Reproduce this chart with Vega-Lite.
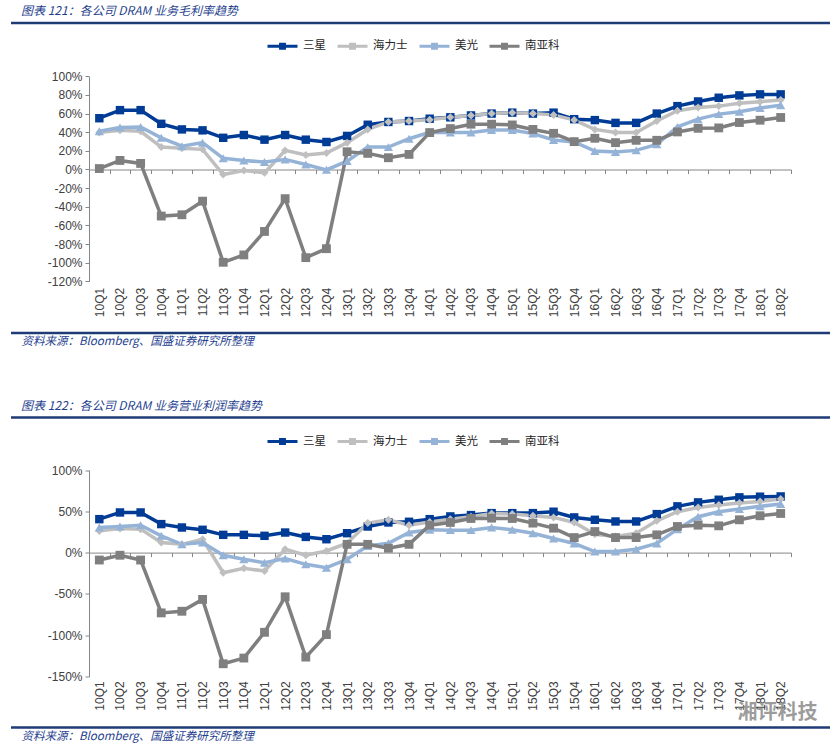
{
  "$schema": "https://vega.github.io/schema/vega-lite/v6.json",
  "background": "white",
  "padding": {"left": 3, "top": 3, "right": 5, "bottom": 0},
  "spacing": 48.5,
  "config": {"view": {"stroke": "#1F3B76", "strokeWidth": 2.5, "strokeDash": [819, 310]}, "font": "Liberation Sans"},
  "resolve": {"scale": {"color": "independent", "shape": "independent", "size": "independent"}},
  "data": {"values": [
    {"q":"10Q1","c":"三星","gm":55,"om":40.5},{"q":"10Q2","c":"三星","gm":63.7,"om":48.6},{"q":"10Q3","c":"三星","gm":63.7,"om":48.6},{"q":"10Q4","c":"三星","gm":49,"om":34.5},
    {"q":"11Q1","c":"三星","gm":43,"om":30.4},{"q":"11Q2","c":"三星","gm":42,"om":27.6},{"q":"11Q3","c":"三星","gm":34,"om":21.5},{"q":"11Q4","c":"三星","gm":37,"om":21.5},
    {"q":"12Q1","c":"三星","gm":32,"om":20.3},{"q":"12Q2","c":"三星","gm":37,"om":24.3},{"q":"12Q3","c":"三星","gm":32,"om":19},{"q":"12Q4","c":"三星","gm":29.5,"om":16.2},
    {"q":"13Q1","c":"三星","gm":36,"om":23.5},{"q":"13Q2","c":"三星","gm":48,"om":31.6},{"q":"13Q3","c":"三星","gm":51,"om":36.5},{"q":"13Q4","c":"三星","gm":52,"om":37.3},
    {"q":"14Q1","c":"三星","gm":54.5,"om":40.5},{"q":"14Q2","c":"三星","gm":56,"om":43.8},{"q":"14Q3","c":"三星","gm":58,"om":45.4},{"q":"14Q4","c":"三星","gm":60,"om":47.8},
    {"q":"15Q1","c":"三星","gm":61,"om":47.8},{"q":"15Q2","c":"三星","gm":60,"om":47.8},{"q":"15Q3","c":"三星","gm":61,"om":49.5},{"q":"15Q4","c":"三星","gm":54,"om":42.6},
    {"q":"16Q1","c":"三星","gm":53,"om":39.7},{"q":"16Q2","c":"三星","gm":50,"om":37.7},{"q":"16Q3","c":"三星","gm":50,"om":37.7},{"q":"16Q4","c":"三星","gm":60,"om":46.6},
    {"q":"17Q1","c":"三星","gm":68,"om":56},{"q":"17Q2","c":"三星","gm":73,"om":60.8},{"q":"17Q3","c":"三星","gm":77,"om":64},{"q":"17Q4","c":"三星","gm":79.5,"om":66.9},
    {"q":"18Q1","c":"三星","gm":80.6,"om":67.7},{"q":"18Q2","c":"三星","gm":80.6,"om":68},

    {"q":"10Q1","c":"海力士","gm":39.6,"om":26.3},{"q":"10Q2","c":"海力士","gm":42,"om":29.2},{"q":"10Q3","c":"海力士","gm":41,"om":28.4},{"q":"10Q4","c":"海力士","gm":24,"om":12.2},
    {"q":"11Q1","c":"海力士","gm":22.7,"om":10},{"q":"11Q2","c":"海力士","gm":21.6,"om":16.2},{"q":"11Q3","c":"海力士","gm":-5.4,"om":-24.3},{"q":"11Q4","c":"海力士","gm":-1,"om":-19},
    {"q":"12Q1","c":"海力士","gm":-3.6,"om":-22.3},{"q":"12Q2","c":"海力士","gm":20.5,"om":4},{"q":"12Q3","c":"海力士","gm":15.5,"om":-3.2},{"q":"12Q4","c":"海力士","gm":17.6,"om":2},
    {"q":"13Q1","c":"海力士","gm":28.8,"om":11.4},{"q":"13Q2","c":"海力士","gm":43,"om":35.7},{"q":"13Q3","c":"海力士","gm":51,"om":39.7},{"q":"13Q4","c":"海力士","gm":52,"om":33.2},
    {"q":"14Q1","c":"海力士","gm":53.3,"om":37},{"q":"14Q2","c":"海力士","gm":56,"om":40.5},{"q":"14Q3","c":"海力士","gm":58,"om":43.4},{"q":"14Q4","c":"海力士","gm":60,"om":47.4},
    {"q":"15Q1","c":"海力士","gm":61,"om":46.6},{"q":"15Q2","c":"海力士","gm":60,"om":44.6},{"q":"15Q3","c":"海力士","gm":58.6,"om":42.6},{"q":"15Q4","c":"海力士","gm":53,"om":36.5},
    {"q":"16Q1","c":"海力士","gm":43,"om":22.3},{"q":"16Q2","c":"海力士","gm":39.6,"om":19.5},{"q":"16Q3","c":"海力士","gm":39.6,"om":23.5},{"q":"16Q4","c":"海力士","gm":52,"om":38.5},
    {"q":"17Q1","c":"海力士","gm":63,"om":49.5},{"q":"17Q2","c":"海力士","gm":66.5,"om":54.7},{"q":"17Q3","c":"海力士","gm":68,"om":57.6},{"q":"17Q4","c":"海力士","gm":71,"om":60},
    {"q":"18Q1","c":"海力士","gm":72.7,"om":62},{"q":"18Q2","c":"海力士","gm":74.5,"om":64.9},

    {"q":"10Q1","c":"美光","gm":41,"om":30.4},{"q":"10Q2","c":"美光","gm":45,"om":31.6},{"q":"10Q3","c":"美光","gm":45.7,"om":33.2},{"q":"10Q4","c":"美光","gm":34,"om":20.3},
    {"q":"11Q1","c":"美光","gm":25,"om":10},{"q":"11Q2","c":"美光","gm":28.8,"om":12.2},{"q":"11Q3","c":"美光","gm":12,"om":-3.2},{"q":"11Q4","c":"美光","gm":9.7,"om":-8.1},
    {"q":"12Q1","c":"美光","gm":8,"om":-12.2},{"q":"12Q2","c":"美光","gm":10.8,"om":-7.3},{"q":"12Q3","c":"美光","gm":5.4,"om":-14.2},{"q":"12Q4","c":"美光","gm":-0.4,"om":-18.2},
    {"q":"13Q1","c":"美光","gm":9,"om":-8.1},{"q":"13Q2","c":"美光","gm":24,"om":8.1},{"q":"13Q3","c":"美光","gm":24,"om":11.4},{"q":"13Q4","c":"美光","gm":33,"om":24.3},
    {"q":"14Q1","c":"美光","gm":40,"om":27.6},{"q":"14Q2","c":"美光","gm":39.6,"om":27.2},{"q":"14Q3","c":"美光","gm":39.6,"om":27.2},{"q":"14Q4","c":"美光","gm":42.4,"om":30.4},
    {"q":"15Q1","c":"美光","gm":42.4,"om":27.6},{"q":"15Q2","c":"美光","gm":38.5,"om":23.5},{"q":"15Q3","c":"美光","gm":31.7,"om":17},{"q":"15Q4","c":"美光","gm":29.5,"om":11},
    {"q":"16Q1","c":"美光","gm":19.8,"om":1.2},{"q":"16Q2","c":"美光","gm":18.7,"om":1.2},{"q":"16Q3","c":"美光","gm":20.5,"om":4},{"q":"16Q4","c":"美光","gm":27,"om":11},
    {"q":"17Q1","c":"美光","gm":45.7,"om":28.4},{"q":"17Q2","c":"美光","gm":54,"om":43.4},{"q":"17Q3","c":"美光","gm":59.4,"om":49.5},{"q":"17Q4","c":"美光","gm":62,"om":52.7},
    {"q":"18Q1","c":"美光","gm":66,"om":56},{"q":"18Q2","c":"美光","gm":69,"om":58.8},

    {"q":"10Q1","c":"南亚科","gm":1,"om":-9},{"q":"10Q2","c":"南亚科","gm":9.7,"om":-3.2},{"q":"10Q3","c":"南亚科","gm":6.5,"om":-9},{"q":"10Q4","c":"南亚科","gm":-50,"om":-73},
    {"q":"11Q1","c":"南亚科","gm":-48.6,"om":-71},{"q":"11Q2","c":"南亚科","gm":-34,"om":-56.7},{"q":"11Q3","c":"南亚科","gm":-99.6,"om":-134.6},{"q":"11Q4","c":"南亚科","gm":-91.7,"om":-127.7},
    {"q":"12Q1","c":"南亚科","gm":-66.5,"om":-96.5},{"q":"12Q2","c":"南亚科","gm":-31.3,"om":-53.5},{"q":"12Q3","c":"南亚科","gm":-94.6,"om":-126.5},{"q":"12Q4","c":"南亚科","gm":-85,"om":-99.3},
    {"q":"13Q1","c":"南亚科","gm":19,"om":10},{"q":"13Q2","c":"南亚科","gm":17.3,"om":10},{"q":"13Q3","c":"南亚科","gm":12.6,"om":5.3},{"q":"13Q4","c":"南亚科","gm":16.2,"om":10},
    {"q":"14Q1","c":"南亚科","gm":39.6,"om":33.2},{"q":"14Q2","c":"南亚科","gm":43.9,"om":36.5},{"q":"14Q3","c":"南亚科","gm":48.6,"om":41.3},{"q":"14Q4","c":"南亚科","gm":48.6,"om":41.7},
    {"q":"15Q1","c":"南亚科","gm":47.8,"om":41.3},{"q":"15Q2","c":"南亚科","gm":43,"om":35.7},{"q":"15Q3","c":"南亚科","gm":38.8,"om":29.6},{"q":"15Q4","c":"南亚科","gm":29.9,"om":18.2},
    {"q":"16Q1","c":"南亚科","gm":33.5,"om":25.5},{"q":"16Q2","c":"南亚科","gm":28.8,"om":18.2},{"q":"16Q3","c":"南亚科","gm":31.3,"om":18.2},{"q":"16Q4","c":"南亚科","gm":31.3,"om":21.5},
    {"q":"17Q1","c":"南亚科","gm":40.3,"om":31.6},{"q":"17Q2","c":"南亚科","gm":44.2,"om":33.2},{"q":"17Q3","c":"南亚科","gm":44.6,"om":32.4},{"q":"17Q4","c":"南亚科","gm":50.4,"om":39.7},
    {"q":"18Q1","c":"南亚科","gm":52.9,"om":44.6},{"q":"18Q2","c":"南亚科","gm":55.8,"om":47.4}
  ]},
  "vconcat": [
    {
      "width": 819,
      "height": 310,
      "title": {"text": "图表 121：各公司 DRAM 业务毛利率趋势", "anchor": "start", "frame": "group", "dx": 10, "offset": 5, "font": "Noto Sans CJK SC", "fontSize": 12, "fontStyle": "italic", "fontWeight": "normal", "color": "#1F3F8F"},
      "encoding": {
        "x": {"field": "q", "type": "ordinal", "sort": null,
          "scale": {"type": "band", "range": [78, 780], "paddingInner": 0, "paddingOuter": 0},
          "axis": {"orient": "bottom", "offset": -163.5, "tickBand": "extent", "tickSize": 4, "labelAngle": -90, "labelPadding": 113.8, "domainColor": "#868686", "tickColor": "#868686", "labelColor": "#404040", "labelFont": "Liberation Sans", "labelFontSize": 12, "grid": false, "labelOverlap": false,
            "title": "资料来源：Bloomberg、国盛证券研究所整理", "titleX": 10, "titleY": 172.3, "titleAlign": "left", "titleBaseline": "middle", "titleAngle": 0, "titleFont": "Noto Sans CJK SC", "titleFontSize": 11.5, "titleFontStyle": "italic", "titleFontWeight": "normal", "titleColor": "#1F3F8F"}},
        "y": {"field": "gm", "type": "quantitative",
          "scale": {"domain": [-120, 100], "range": [258.3, 53.3], "nice": false, "zero": false},
          "axis": {"title": null, "offset": -78, "values": [-120, -100, -80, -60, -40, -20, 0, 20, 40, 60, 80, 100], "labelExpr": "datum.value + '%'", "tickSize": 4, "labelPadding": 3, "domainColor": "#868686", "tickColor": "#868686", "labelColor": "#404040", "labelFont": "Liberation Sans", "labelFontSize": 12, "grid": false}}
      },
      "layer": [
        {"mark": {"type": "line", "strokeWidth": 3.5},
          "encoding": {
            "color": {"field": "c", "type": "nominal", "sort": null,
              "scale": {"domain": ["三星", "海力士", "美光", "南亚科"], "range": ["#003B95", "#BFBFBF", "#95B3D7", "#7F7F7F"]},
              "legend": {"orient": "none", "legendX": 255, "legendY": 6.8, "direction": "horizontal", "gridAlign": "none", "title": null, "padding": 0, "symbolType": "M-1,0H1M-0.13,-0.13H0.13V0.13H-0.13Z", "symbolSize": 900, "symbolStrokeWidth": 3, "symbolOpacity": 1, "labelFont": "Noto Sans CJK SC", "labelFontSize": 11.5, "labelColor": "#262626", "labelOffset": 4, "columnPadding": 5}}
          }},
        {"mark": {"type": "point", "filled": true, "opacity": 1},
          "encoding": {
            "color": {"field": "c", "type": "nominal", "sort": null, "scale": {"domain": ["三星", "海力士", "美光", "南亚科"], "range": ["#003B95", "#BFBFBF", "#95B3D7", "#7F7F7F"]}, "legend": null},
            "shape": {"field": "c", "type": "nominal", "sort": null, "scale": {"domain": ["南亚科", "美光", "海力士", "三星"], "range": ["square", "triangle-up", "diamond", "square"]}, "legend": null},
            "size": {"field": "c", "type": "nominal", "sort": null, "scale": {"domain": ["美光", "南亚科", "三星", "海力士"], "range": [85, 64, 81, 70]}, "legend": null}
          }}
      ]
    },
    {
      "width": 819,
      "height": 310,
      "title": {"text": "图表 122：各公司 DRAM 业务营业利润率趋势", "anchor": "start", "frame": "group", "dx": 10, "offset": 5, "font": "Noto Sans CJK SC", "fontSize": 12, "fontStyle": "italic", "fontWeight": "normal", "color": "#1F3F8F"},
      "encoding": {
        "x": {"field": "q", "type": "ordinal", "sort": null,
          "scale": {"type": "band", "range": [78, 780], "paddingInner": 0, "paddingOuter": 0},
          "axis": {"orient": "bottom", "offset": -174.9, "tickBand": "extent", "tickSize": 4, "labelAngle": -90, "labelPadding": 124.2, "domainColor": "#868686", "tickColor": "#868686", "labelColor": "#404040", "labelFont": "Liberation Sans", "labelFontSize": 12, "grid": false, "labelOverlap": false,
            "title": "资料来源：Bloomberg、国盛证券研究所整理", "titleX": 10, "titleY": 184.2, "titleAlign": "left", "titleBaseline": "middle", "titleAngle": 0, "titleFont": "Noto Sans CJK SC", "titleFontSize": 11.5, "titleFontStyle": "italic", "titleFontWeight": "normal", "titleColor": "#1F3F8F"}},
        "y": {"field": "om", "type": "quantitative",
          "scale": {"domain": [-150, 100], "range": [259, 52.5], "nice": false, "zero": false},
          "axis": {"offset": -78, "values": [-150, -100, -50, 0, 50, 100], "labelExpr": "datum.value + '%'", "tickSize": 4, "labelPadding": 3, "domainColor": "#868686", "tickColor": "#868686", "labelColor": "#404040", "labelFont": "Liberation Sans", "labelFontSize": 12, "grid": false,
            "title": "湘评科技", "titleX": 688, "titleY": 295.3, "titleAngle": 0, "titleAlign": "center", "titleBaseline": "middle", "titleFont": "Noto Sans CJK SC", "titleFontSize": 20, "titleFontWeight": "bold", "titleColor": "#8A8A8A", "titleOpacity": 0.85}}
      },
      "layer": [
        {"mark": {"type": "line", "strokeWidth": 3.5},
          "encoding": {
            "color": {"field": "c", "type": "nominal", "sort": null,
              "scale": {"domain": ["三星", "海力士", "美光", "南亚科"], "range": ["#003B95", "#BFBFBF", "#95B3D7", "#7F7F7F"]},
              "legend": {"orient": "none", "legendX": 255, "legendY": 7.5, "direction": "horizontal", "gridAlign": "none", "title": null, "padding": 0, "symbolType": "M-1,0H1M-0.13,-0.13H0.13V0.13H-0.13Z", "symbolSize": 900, "symbolStrokeWidth": 3, "symbolOpacity": 1, "labelFont": "Noto Sans CJK SC", "labelFontSize": 11.5, "labelColor": "#262626", "labelOffset": 4, "columnPadding": 5}}
          }},
        {"mark": {"type": "point", "filled": true, "opacity": 1},
          "encoding": {
            "color": {"field": "c", "type": "nominal", "sort": null, "scale": {"domain": ["三星", "海力士", "美光", "南亚科"], "range": ["#003B95", "#BFBFBF", "#95B3D7", "#7F7F7F"]}, "legend": null},
            "shape": {"field": "c", "type": "nominal", "sort": null, "scale": {"domain": ["南亚科", "美光", "海力士", "三星"], "range": ["square", "triangle-up", "diamond", "square"]}, "legend": null},
            "size": {"field": "c", "type": "nominal", "sort": null, "scale": {"domain": ["美光", "南亚科", "三星", "海力士"], "range": [85, 64, 81, 70]}, "legend": null}
          }}
      ]
    }
  ]
}
